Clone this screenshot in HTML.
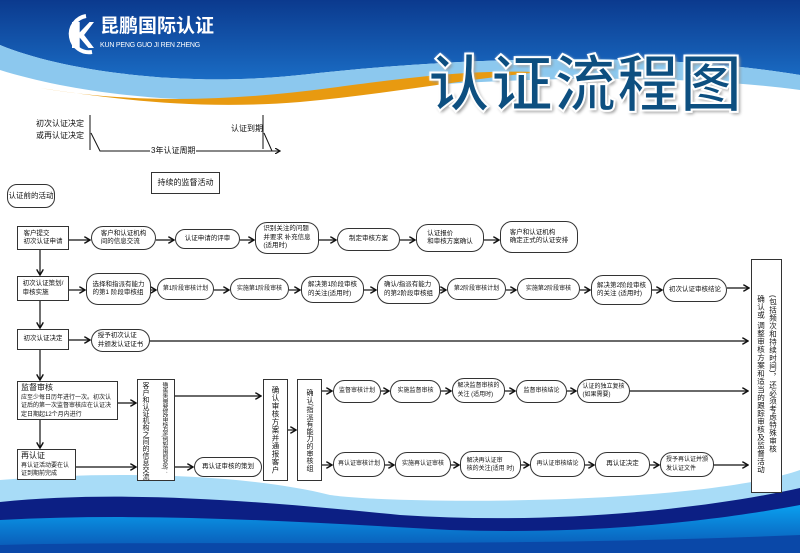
<!DOCTYPE html>
<html><head><meta charset="utf-8"><style>
body{margin:0;width:800px;height:553px;overflow:hidden;background:#fff;position:relative;font-family:"Liberation Sans","Noto Sans CJK SC",sans-serif;color:#111}
.b{position:absolute;box-sizing:border-box;border:1.3px solid #333;background:#fff;font-size:6.5px;line-height:8.5px;display:flex;align-items:center;justify-content:center;text-align:left;padding:0 1px;white-space:nowrap;overflow:visible}
.r{border-radius:12px}
.v{writing-mode:vertical-rl;font-size:7.5px;line-height:11px;letter-spacing:0.5px}
.t{position:absolute;font-size:8px;line-height:12px;white-space:nowrap}
</style></head><body>
<svg width="800" height="553" style="position:absolute;left:0;top:0">
<defs>
<linearGradient id="hg" x1="0" y1="0" x2="0" y2="1"><stop offset="0" stop-color="#0b3a8e"/><stop offset="1" stop-color="#1a6cc4"/></linearGradient>
<linearGradient id="fg" x1="0" y1="0" x2="0" y2="1"><stop offset="0" stop-color="#0aa0ef"/><stop offset="1" stop-color="#0a52b0"/></linearGradient>
<marker id="a" markerWidth="6" markerHeight="6" refX="5" refY="3" orient="auto"><path d="M0,0 L5,3 L0,6" fill="none" stroke="#111" stroke-width="1.2"/></marker>
</defs>
<path d="M0,0 H800 V75 C650,50 450,58 300,75 C180,88 60,70 0,45 Z" fill="url(#hg)"/>
<path d="M0,45 C60,70 180,88 300,75 C450,58 650,50 800,75 V90 C650,70 450,80 320,95 C200,108 80,95 0,70 Z" fill="#8cc8ee"/>
<path d="M40,88 C140,105 240,100 330,88 C420,76 470,70 540,72 C460,80 380,95 300,102 C200,110 120,100 40,88 Z" fill="#e89a10"/>
<path d="M0,480 C120,470 250,475 330,495 C400,505 700,505 800,470 V553 H0 Z" fill="#a8dcf7"/>
<path d="M0,502 C120,490 250,500 400,515 C550,525 700,510 800,488 V553 H0 Z" fill="#0c1f84"/>
<path d="M0,520 C150,512 300,522 450,530 C600,535 720,520 800,505 V553 H0 Z" fill="url(#fg)"/>
<path d="M0,545 C200,540 500,548 800,535 V553 H0 Z" fill="#0a48a8"/>
<path d="M86,16 A18,18 0 1,0 92,52" fill="none" stroke="#fff" stroke-width="4"/>
<g stroke="#111" stroke-width="1" fill="none">
<path d="M90,115 V150 M91,133 L100,151 H280" marker-end="url(#a)"/>
<path d="M263,115 V149 M264,133 L272,151"/>
</g>
<g stroke="#111" stroke-width="1.2" fill="none" marker-end="url(#a)">
<path d="M40,250 V275"/><path d="M40,301 V328"/><path d="M40,350 V380"/><path d="M40,420 V448"/>
<path d="M69,240 H90"/><path d="M156,240 H174"/><path d="M240,240 H254"/><path d="M319,240 H336"/><path d="M400,240 H415"/><path d="M484,240 H499"/>
<path d="M69,290 H85"/><path d="M151,290 H156"/><path d="M214,290 H229"/><path d="M289,290 H300"/><path d="M364,290 H376"/><path d="M440,290 H446"/><path d="M506,290 H516"/><path d="M580,290 H590"/><path d="M652,290 H662"/><path d="M727,288 H749"/>
<path d="M69,340 H90"/><path d="M150,341 H748"/>
<path d="M118,403 H136"/><path d="M76,467 H136"/>
<path d="M175,396 H261"/><path d="M175,467 H193"/>
<path d="M288,430 H296"/>
<path d="M322,391 H332"/><path d="M381,391 H389"/><path d="M441,391 H451"/><path d="M505,391 H515"/><path d="M567,391 H576"/><path d="M630,391 H748"/>
<path d="M322,465 H332"/><path d="M385,465 H394"/><path d="M451,465 H459"/><path d="M521,465 H529"/><path d="M585,465 H594"/><path d="M650,465 H659"/><path d="M714,465 H748"/>
</g>
</svg>
<div style="position:absolute;left:72px;top:22px;width:22px;height:26px;background:#fff;clip-path:polygon(0 0,35% 0,35% 40%,80% 0,100% 0,55% 50%,100% 100%,75% 100%,35% 60%,35% 100%,0 100%)"></div>
<div class="t" style="left:100px;top:16px;color:#fff;font-size:19px;line-height:22px;font-weight:bold">昆鹏国际认证</div>
<div class="t" style="left:100px;top:40px;color:#fff;font-size:7px;letter-spacing:-0.2px">KUN PENG GUO JI REN ZHENG</div>
<div class="t" style="left:428px;top:52px;font-size:62px;line-height:68px;font-weight:bold;color:#0d4f80;-webkit-text-stroke:2px #fff;text-shadow:0 0 3px #fff,2px 2px 3px #888;letter-spacing:1px">认证流程图</div>
<div class="t" style="left:36px;top:118px">初次认证决定<br>或再认证决定</div>
<div class="t" style="left:231px;top:123px">认证到期</div>
<div class="t" style="left:150px;top:145px;background:#fff;padding:0 1px">3年认证周期</div>
<div class="b" style="left:151px;top:172px;width:69px;height:22px;font-size:8px">持续的监督活动</div>
<div class="b r" style="left:7px;top:184px;width:48px;height:24px;font-size:7.5px;border-radius:10px">认证前的活动</div>

<div class="b" style="left:17px;top:226px;width:52px;height:24px">客户提交<br>初次认证申请</div>
<div class="b r" style="left:91px;top:226px;width:65px;height:24px">客户和认证机构<br>间的信息交流</div>
<div class="b r" style="left:175px;top:229px;width:65px;height:20px">认证申请的评审</div>
<div class="b r" style="left:255px;top:222px;width:64px;height:32px">识别关注的问题<br>并要求 补充信息<br>(适用时)</div>
<div class="b r" style="left:337px;top:228px;width:63px;height:23px">制定审核方案</div>
<div class="b r" style="left:416px;top:224px;width:68px;height:28px">认证报价<br>和审核方案确认</div>
<div class="b r" style="left:500px;top:221px;width:78px;height:32px">客户和认证机构<br>确定正式的认证安排</div>

<div class="b" style="left:17px;top:276px;width:52px;height:25px">初次认证策划/<br>审核实施</div>
<div class="b r" style="left:86px;top:273px;width:65px;height:32px">选择和指派有能力<br>的第1 阶段审核组</div>
<div class="b r" style="left:157px;top:278px;width:57px;height:22px;font-size:6px">第1阶段审核计划</div>
<div class="b r" style="left:230px;top:278px;width:59px;height:22px;font-size:6px">实施第1阶段审核</div>
<div class="b r" style="left:301px;top:276px;width:63px;height:27px">解决第1阶段审核<br>的关注(适用时)</div>
<div class="b r" style="left:377px;top:275px;width:63px;height:29px">确认/指派有能力<br>的第2阶段审核组</div>
<div class="b r" style="left:447px;top:278px;width:59px;height:22px;font-size:6px">第2阶段审核计划</div>
<div class="b r" style="left:517px;top:278px;width:63px;height:22px;font-size:6px">实施第2阶段审核</div>
<div class="b r" style="left:591px;top:275px;width:61px;height:30px">解决第2阶段审核<br>的关注 (适用时)</div>
<div class="b r" style="left:663px;top:278px;width:64px;height:24px">初次认证审核结论</div>

<div class="b" style="left:17px;top:329px;width:52px;height:21px">初次认证决定</div>
<div class="b r" style="left:91px;top:329px;width:59px;height:23px">授予初次认证<br>并颁发认证证书</div>

<div class="b" style="left:17px;top:381px;width:101px;height:39px;display:block;padding:2px 3px;font-size:6px;line-height:8.5px;white-space:normal"><span style="font-size:8px">监督审核</span><br>应至少每日历年进行一次。初次认证后的第一次监督审核应在认证决定日期起12个月内进行</div>
<div class="b" style="left:17px;top:449px;width:59px;height:31px;display:block;padding:2px 3px;font-size:6px;line-height:8.5px;white-space:normal"><span style="font-size:8px">再认证</span><br>再认证活动要在认证到期前完成</div>

<div class="b" style="left:137px;top:379px;width:38px;height:102px;padding:0"></div>
<span class="v" style="position:absolute;left:140px;top:382px;font-size:7px;line-height:10px;letter-spacing:0">客户和认证机构之间的信息交流</span>
<span class="v" style="position:absolute;left:160px;top:382px;font-size:6px;line-height:8px;letter-spacing:0;transform:scaleY(0.74);transform-origin:top">确定是否需要修改审核方案(例如范围的变化)：</span>
<div class="b r" style="left:194px;top:457px;width:68px;height:20px;border-radius:10px">再认证审核的策划</div>
<div class="b v" style="left:263px;top:379px;width:25px;height:102px;align-items:center;padding:0">确认审核方案并通报客户</div>
<div class="b v" style="left:297px;top:379px;width:25px;height:102px;align-items:center;padding:0;font-size:7px;letter-spacing:0.3px">确认/指派有能力的审核组</div>

<div class="b r" style="left:333px;top:380px;width:48px;height:23px;font-size:6px">监督审核计划</div>
<div class="b r" style="left:390px;top:380px;width:51px;height:23px;font-size:6px">实施监督审核</div>
<div class="b r" style="left:452px;top:378px;width:53px;height:25px;font-size:6px">解决监督审核的<br>关注 (适用时)</div>
<div class="b r" style="left:516px;top:380px;width:51px;height:23px;font-size:6px">监督审核结论</div>
<div class="b r" style="left:577px;top:379px;width:53px;height:24px;font-size:6px">认证的独立复核<br>(如果需要)</div>

<div class="b r" style="left:333px;top:452px;width:52px;height:25px;font-size:6px">再认证审核计划</div>
<div class="b r" style="left:395px;top:452px;width:56px;height:25px;font-size:6px">实施再认证审核</div>
<div class="b r" style="left:460px;top:451px;width:61px;height:28px;font-size:6px">解决再认证审<br>核的关注(适用 时)</div>
<div class="b r" style="left:530px;top:452px;width:55px;height:25px;font-size:6px">再认证审核结论</div>
<div class="b r" style="left:595px;top:452px;width:55px;height:25px">再认证决定</div>
<div class="b r" style="left:660px;top:452px;width:54px;height:25px;font-size:6px">授予再认证并颁<br>发认证文件</div>

<div class="b" style="left:751px;top:259px;width:31px;height:234px;align-items:flex-start;padding:35px 2px 0;white-space:normal">
<span class="v" style="font-size:7.5px;line-height:12px;letter-spacing:0.5px;white-space:nowrap">(包括频次和持续时间)，还必须考虑特殊审核<br>确认或 调整审核方案和适当的跟踪审核及监督活动</span></div>
</body></html>
